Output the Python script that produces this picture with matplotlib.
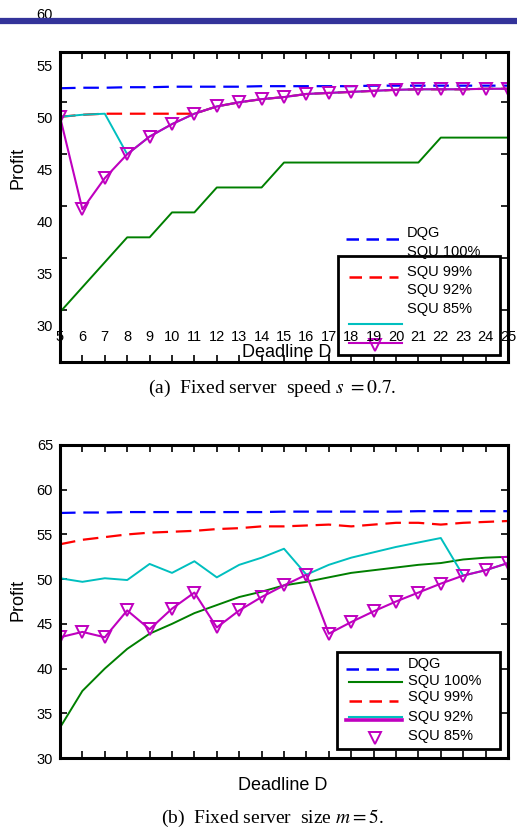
import numpy as np
import matplotlib.pyplot as plt
from matplotlib.lines import Line2D
from matplotlib.patches import Rectangle

plt.rcParams['font.family'] = ['Liberation Sans', 'DejaVu Sans']
plt.rcParams['mathtext.fontset'] = 'stix'

D = list(range(5, 26))

# (a) fixed server speed s = 0.7
a_dqg = [52.95, 53.0, 53.0, 53.05, 53.05, 53.1, 53.1, 53.1, 53.1, 53.15, 53.15,
         53.15, 53.15, 53.15, 53.2, 53.2, 53.2, 53.2, 53.2, 53.2, 53.2]
a_squ100 = [31.4, 33.8, 36.2, 38.6, 38.6, 41.0, 41.0, 43.4, 43.4, 43.4, 45.8,
            45.8, 45.8, 45.8, 45.8, 45.8, 45.8, 48.2, 48.2, 48.2, 48.2]
a_squ99 = [50.2, 50.4, 50.5, 50.5, 50.5, 50.5, 50.5, 51.2, 51.6, 51.9, 52.1,
           52.4, 52.5, 52.6, 52.7, 52.8, 52.85, 52.85, 52.85, 52.9, 52.9]
a_squ92 = [50.2, 50.4, 50.5, 46.6, 48.3, 49.5, 50.5, 51.2, 51.6, 51.9, 52.1,
           52.4, 52.5, 52.6, 52.7, 52.8, 52.85, 52.85, 52.85, 52.9, 52.9]
a_squ85 = [50.2, 41.3, 44.3, 46.6, 48.3, 49.5, 50.5, 51.2, 51.6, 51.9, 52.1,
           52.4, 52.5, 52.6, 52.7, 52.8, 52.85, 52.85, 52.85, 52.9, 52.9]

# (b) fixed server size m = 5
b_dqg = [57.4, 57.45, 57.45, 57.5, 57.5, 57.5, 57.5, 57.5, 57.5, 57.5, 57.55,
         57.55, 57.55, 57.55, 57.55, 57.55, 57.6, 57.6, 57.6, 57.6, 57.6]
b_squ100 = [33.4, 37.5, 40.0, 42.2, 43.9, 45.0, 46.2, 47.1, 48.0, 48.6, 49.3,
            49.7, 50.2, 50.7, 51.0, 51.3, 51.6, 51.8, 52.2, 52.4, 52.5]
b_squ99 = [53.9, 54.4, 54.7, 55.0, 55.2, 55.3, 55.4, 55.6, 55.7, 55.9, 55.9,
           56.0, 56.1, 55.9, 56.1, 56.3, 56.3, 56.1, 56.3, 56.4, 56.5]
b_squ92 = [50.1, 49.7, 50.1, 49.9, 51.7, 50.7, 52.0, 50.2, 51.6, 52.4, 53.4,
           50.5, 51.6, 52.4, 53.0, 53.6, 54.1, 54.6, 50.4, 51.0, 51.8]
b_squ85 = [43.5, 44.1, 43.5, 46.5, 44.4, 46.7, 48.5, 44.6, 46.5, 48.0, 49.3,
           50.5, 43.9, 45.2, 46.4, 47.5, 48.5, 49.5, 50.4, 51.0, 51.8]

labels = ['DQG', 'SQU 100%', 'SQU 99%', 'SQU 92%', 'SQU 85%']
a_yticklabels = [30, 35, 40, 45, 50, 55, 60]

blue = '#0000ff'
green = '#007f00'
red = '#ff0000'
cyan = '#00bfbf'
mag = '#bf00bf'
dash = (7, 3.5)
ms = 8

fig = plt.figure(figsize=(5.17, 8.32), dpi=100)
ax1 = fig.add_axes([60/517, 1-362/832, 448/517, 310/832])
ax2 = fig.add_axes([60/517, 1-758/832, 448/517, 313/832])


def draw(ax, dqg, s100, s99, s92, s85):
    ax.plot(D, dqg, color=blue, lw=1.6, dashes=dash)
    ax.plot(D, s100, color=green, lw=1.4)
    ax.plot(D, s99, color=red, lw=1.6, dashes=dash)
    ax.plot(D, s92, color=cyan, lw=1.4)
    ax.plot(D, s85, color=mag, lw=1.5, marker='v', ms=ms, mfc='none', mew=1.4)
    ax.set_xlim(5, 25)
    ax.set_xticks(D)
    for s in ax.spines.values():
        s.set_linewidth(2.2)
    ax.tick_params(direction='in', length=5, width=1.2, top=True, right=True,
                   labelsize=10.5)


draw(ax1, a_dqg, a_squ100, a_squ99, a_squ92, a_squ85)
draw(ax2, b_dqg, b_squ100, b_squ99, b_squ92, b_squ85)

# panel (a): tick labels in the source sit off the tick marks
ax1.set_ylim(26.6, 56.44)
ax1.set_yticks(np.arange(31.6, 55, 5))
ax1.set_yticklabels([])
ax1.set_xticklabels([])
for v in a_yticklabels:
    ax1.text(-0.016, v, str(v), transform=ax1.get_yaxis_transform(),
             ha='right', va='center', fontsize=10.5, clip_on=False)
for d in D:
    ax1.text(d, 0.081, str(d), transform=ax1.get_xaxis_transform(),
             ha='center', va='center', fontsize=10.5)

# panel (b)
ax2.set_ylim(30, 65)
ax2.set_yticks(range(30, 66, 5))
ax2.set_xticklabels([])
ax2.tick_params(axis='y', pad=5)

# legend (a), as drawn in the source
ax1.add_patch(Rectangle((0.6205, 0.0226), 0.3615, 0.3194, transform=ax1.transAxes,
                        fill=False, lw=2, ec='black'))
ax1.add_line(Line2D([0.638, 0.763], [0.397, 0.397], transform=ax1.transAxes,
                    color=blue, lw=1.8, dashes=(5, 3)))
ax1.add_line(Line2D([0.645, 0.754], [0.274, 0.274], transform=ax1.transAxes,
                    color=red, lw=1.8, dashes=(5, 3)))
ax1.add_line(Line2D([0.645, 0.763], [0.123, 0.123], transform=ax1.transAxes,
                    color=cyan, lw=1.5))
ax1.add_line(Line2D([0.645, 0.763], [0.061, 0.061], transform=ax1.transAxes,
                    color=mag, lw=1.5))
ax1.add_line(Line2D([0.703], [0.055], transform=ax1.transAxes, color=mag,
                    marker='v', ms=ms, mfc='none', mew=1.4))
for lab, y in zip(labels, [0.416, 0.355, 0.290, 0.232, 0.171]):
    ax1.text(0.775, y, lab, transform=ax1.transAxes, ha='left', va='center',
             fontsize=10.5, clip_on=False)

# legend (b)
ax2.add_patch(Rectangle((0.618, 0.029), 0.364, 0.31, transform=ax2.transAxes,
                        fc='white', lw=2, ec='black', zorder=3))
ax2.add_line(Line2D([0.638, 0.763], [0.284, 0.284], transform=ax2.transAxes,
                    color=blue, lw=1.8, dashes=(5, 3), zorder=4))
ax2.add_line(Line2D([0.645, 0.763], [0.243, 0.243], transform=ax2.transAxes,
                    color=green, lw=1.5, zorder=4))
ax2.add_line(Line2D([0.645, 0.754], [0.182, 0.182], transform=ax2.transAxes,
                    color=red, lw=1.8, dashes=(5, 3), zorder=4))
ax2.add_line(Line2D([0.638, 0.763], [0.121, 0.121], transform=ax2.transAxes,
                    color=mag, lw=2.6, zorder=4))
ax2.add_line(Line2D([0.645, 0.763], [0.131, 0.131], transform=ax2.transAxes,
                    color=cyan, lw=1.5, zorder=4))
ax2.add_line(Line2D([0.703], [0.064], transform=ax2.transAxes, color=mag,
                    marker='v', ms=ms, mfc='none', mew=1.4, zorder=4))
for lab, y in zip(labels, [0.300, 0.246, 0.195, 0.131, 0.070]):
    ax2.text(0.777, y, lab, transform=ax2.transAxes, ha='left', va='center',
             fontsize=10.5, zorder=5)

# axis titles
fig.text(18/517, 1-168/832, 'Profit', rotation=90, ha='center', va='center', fontsize=13)
fig.text(18/517, 1-600/832, 'Profit', rotation=90, ha='center', va='center', fontsize=13)
fig.text(287/517, 1-352/832, 'Deadline D', ha='center', va='center', fontsize=13)
fig.text(283/517, 1-786/832, 'Deadline D', ha='center', va='center', fontsize=13)

# captions
fig.text(272/517, 1-388/832, '(a)  Fixed server  speed $s\\ = 0.7$.', ha='center',
         va='center', fontsize=14, family='Liberation Serif')
fig.text(272/517, 1-818/832, '(b)  Fixed server  size $m = 5$.', ha='center',
         va='center', fontsize=14, family='Liberation Serif')

# page header rule
fig.add_artist(Line2D([0, 1], [1-21/832, 1-21/832], transform=fig.transFigure,
                      color='#33339a', lw=4.5))

fig.savefig('out.png', dpi=100)
